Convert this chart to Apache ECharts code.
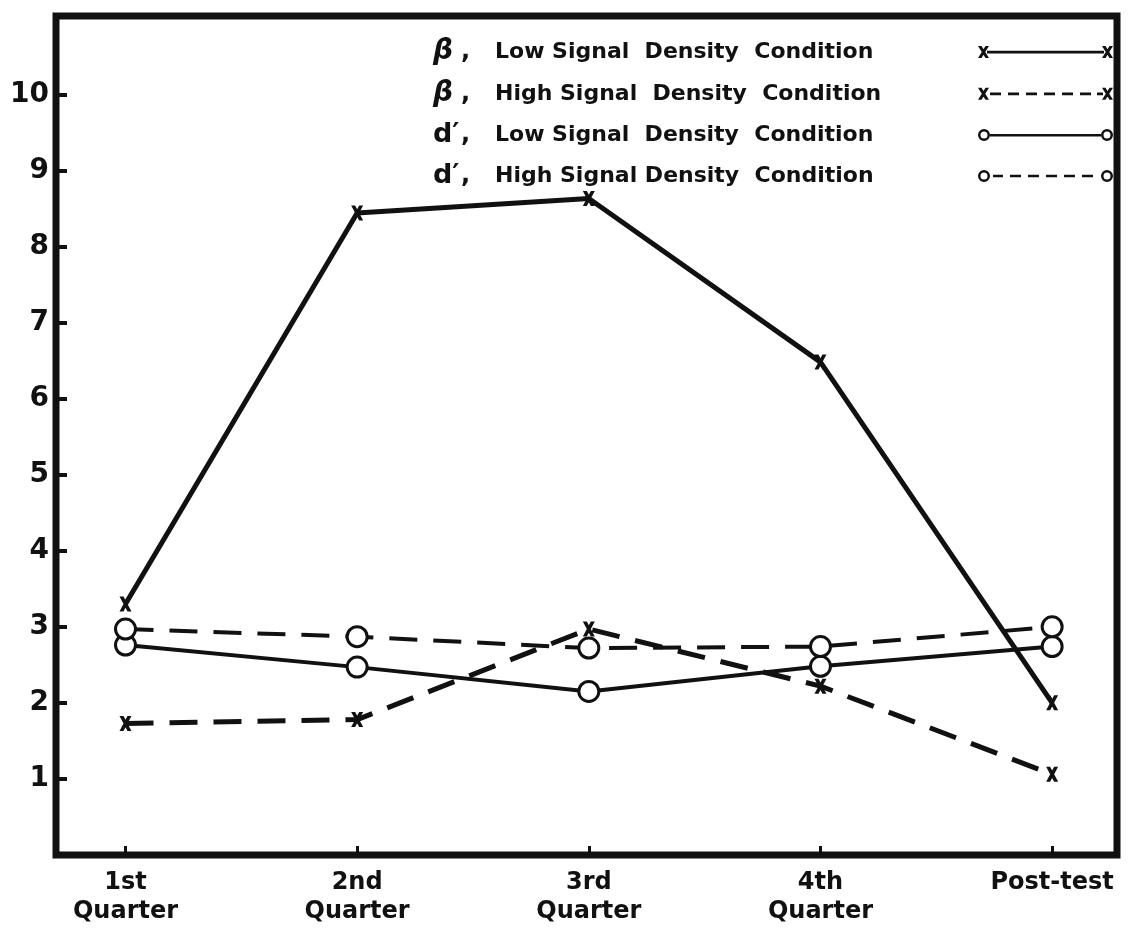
<!DOCTYPE html>
<html>
<head>
<meta charset="utf-8">
<script src="https://cdn.jsdelivr.net/npm/echarts@6/dist/echarts.min.js"></script>
<style>
  html, body { margin: 0; padding: 0; background: #fff; }
  #chart { width: 1128px; height: 935px; }
</style>
</head>
<body>
<div id="chart"></div>
<script>
// data
const categories = ['1st\nQuarter', '2nd\nQuarter', '3rd\nQuarter', '4th\nQuarter', 'Post-test']
const betaLow = [3.3, 8.44, 8.63, 6.48, 2.0]
const betaHigh = [1.73, 1.78, 2.97, 2.22, 1.06]
const dLow = [2.76, 2.47, 2.15, 2.48, 2.74]
const dHigh = [2.97, 2.87, 2.72, 2.74, 3.0]
const yTicks = [1, 2, 3, 4, 5, 6, 7, 8, 9, 10]

const seriesNames = [
  'β, Low Signal Density Condition',
  'β, High Signal Density Condition',
  "d′, Low Signal Density Condition",
  "d′, High Signal Density Condition"
]
const legendText = {
  [seriesNames[0]]: '{g|β}{c|,}{t|Low Signal  Density  Condition}',
  [seriesNames[1]]: '{g|β}{c|,}{t|High Signal  Density  Condition}',
  [seriesNames[2]]: '{d|d′}{c|,}{t|Low Signal  Density  Condition}',
  [seriesNames[3]]: '{d|d′}{c|,}{t|High Signal Density  Condition}'
}

const ink = '#111'
const font = 'DejaVu Sans'

// marker and legend sample shapes
const xMark = 'path://M0 0L4 0L12 15L8 15Z M8 0L12 0L4 15L0 15Z'
const xEnds = 'M0 0L3.5 0L11 12L7.5 12Z M7.5 0L11 0L3.5 12L0 12Z M124 0L127.5 0L135 12L131.5 12Z M131.5 0L135 0L127.5 12L124 12Z'
const oEnds = 'M0 6A6 6 0 1 1 12 6A6 6 0 1 1 0 6Z M2.5 6A3.5 3.5 0 1 0 9.5 6A3.5 3.5 0 1 0 2.5 6Z ' +
  'M123 6A6 6 0 1 1 135 6A6 6 0 1 1 123 6Z M125.5 6A3.5 3.5 0 1 0 132.5 6A3.5 3.5 0 1 0 125.5 6Z'
const solidX = 'path://' + xEnds + ' M9 4.8L126 4.8L126 7.4L9 7.4Z'
const dashedX = 'path://' + xEnds + ' M12 4.8L23 4.8L23 7.4L12 7.4Z M30 4.8L41 4.8L41 7.4L30 7.4Z M48 4.8L59 4.8L59 7.4L48 7.4Z' +
  ' M66 4.8L77 4.8L77 7.4L66 7.4Z M84 4.8L95 4.8L95 7.4L84 7.4Z M102 4.8L113 4.8L113 7.4L102 7.4Z M119 4.8L125 4.8L125 7.4L119 7.4Z'
const solidO = 'path://' + oEnds + ' M12 4.8L123 4.8L123 7.4L12 7.4Z'
const dashedO = 'path://' + oEnds + ' M15 4.8L25 4.8L25 7.4L15 7.4Z M32 4.8L43 4.8L43 7.4L32 7.4Z M50 4.8L61 4.8L61 7.4L50 7.4Z' +
  ' M68 4.8L79 4.8L79 7.4L68 7.4Z M86 4.8L97 4.8L97 7.4L86 7.4Z M104 4.8L115 4.8L115 7.4L104 7.4Z'

const pts = vals => vals.map((v, i) => [i, v])

const chart = echarts.init(document.getElementById('chart'))

const makeSeries = (name, vals, dashed, circle) => ({
  name,
  type: 'line',
  data: pts(vals),
  symbol: circle ? 'circle' : xMark,
  symbolSize: circle ? 20 : [12, 15],
  itemStyle: circle
    ? { color: '#fff', borderColor: ink, borderWidth: 3 }
    : { color: ink },
  lineStyle: { color: ink, width: circle ? 4 : 5, type: dashed ? [28, 16] : 'solid' },
  z: circle ? 3 : 2
})

chart.setOption({
  animation: false,
  backgroundColor: '#fff',
  grid: {
    left: 56,
    right: 11,
    top: 16,
    bottom: 80,
    show: true,
    borderColor: ink,
    borderWidth: 7,
    outerBoundsMode: 'none'
  },
  legend: {
    orient: 'vertical',
    right: 15,
    top: 38,
    padding: 0,
    align: 'right',
    itemWidth: 135,
    itemHeight: 12,
    itemGap: 13.8,
    selectedMode: false,
    itemStyle: { color: ink, borderWidth: 0 },
    data: [
      { name: seriesNames[0], icon: solidX },
      { name: seriesNames[1], icon: dashedX },
      { name: seriesNames[2], icon: solidO },
      { name: seriesNames[3], icon: dashedO }
    ],
    formatter: name => legendText[name],
    textStyle: {
      color: ink,
      rich: {
        g: { fontFamily: font, fontStyle: 'italic', fontWeight: 'bold', fontSize: 28, width: 28, lineHeight: 30, align: 'left', color: ink },
        d: { fontFamily: font, fontWeight: 'bold', fontSize: 27, width: 28, lineHeight: 30, align: 'left', color: ink },
        c: { fontFamily: font, fontWeight: 'bold', fontSize: 24, width: 34, lineHeight: 30, align: 'left', color: ink },
        t: { fontFamily: font, fontWeight: 'bold', fontSize: 22, width: 478, lineHeight: 30, align: 'left', color: ink }
      }
    }
  },
  xAxis: {
    type: 'value',
    min: -0.3,
    max: 4.28,
    axisLine: { show: false, onZero: false },
    splitLine: { show: false },
    axisTick: {
      customValues: [0, 1, 2, 3, 4],
      inside: true,
      length: 9,
      lineStyle: { color: ink, width: 3 }
    },
    axisLabel: {
      customValues: [0, 1, 2, 3, 4],
      formatter: v => categories[v],
      margin: 13,
      color: ink,
      fontFamily: font,
      fontWeight: 'bold',
      fontSize: 24,
      lineHeight: 29
    }
  },
  yAxis: {
    type: 'value',
    min: 0,
    max: 11.03,
    axisLine: { show: false, onZero: false },
    splitLine: { show: false },
    axisTick: {
      customValues: yTicks,
      inside: true,
      length: 11,
      lineStyle: { color: ink, width: 4 }
    },
    axisLabel: {
      customValues: yTicks,
      margin: 7,
      color: ink,
      fontFamily: font,
      fontWeight: 'bold',
      fontSize: 28
    }
  },
  series: [
    makeSeries(seriesNames[0], betaLow, false, false),
    makeSeries(seriesNames[1], betaHigh, true, false),
    makeSeries(seriesNames[2], dLow, false, true),
    makeSeries(seriesNames[3], dHigh, true, true)
  ]
})
</script>
</body>
</html>
